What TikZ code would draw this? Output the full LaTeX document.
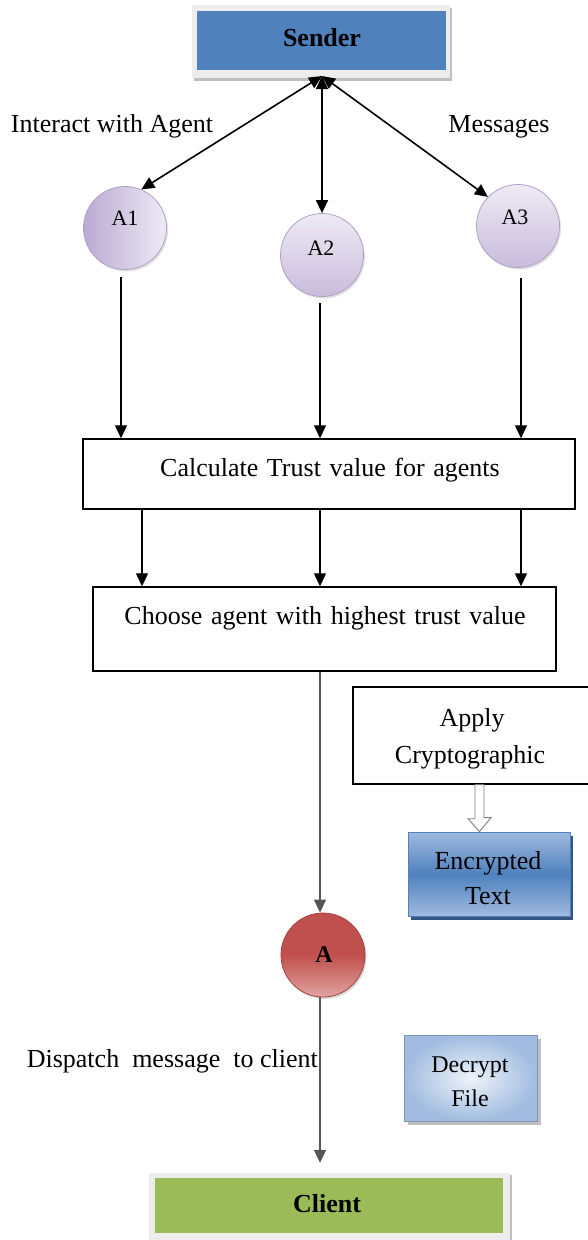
\documentclass[tikz,border=0pt]{standalone}
\usepackage{fontspec}
\setmainfont{Liberation Serif}
\usetikzlibrary{arrows.meta,shadows}
\definecolor{sblue}{HTML}{4F81BD}
\definecolor{cgreen}{HTML}{9BBB59}
\definecolor{framegrey}{HTML}{EDEDED}
\definecolor{frameshadow}{HTML}{BFBFBF}
\definecolor{lavdark}{HTML}{BBAAD3}
\definecolor{lavmid}{HTML}{C9BCDC}
\definecolor{lavlight}{HTML}{EEEAF4}
\definecolor{lavedge}{HTML}{B0A0C8}
\definecolor{redtop}{HTML}{C0504D}
\definecolor{redbot}{HTML}{E0A3A1}
\definecolor{rededge}{HTML}{A9423F}
\definecolor{enclight}{HTML}{9FBADF}
\definecolor{encshadow}{HTML}{34557F}
\definecolor{decouter}{HTML}{A1BCE0}
\definecolor{decinner}{HTML}{EEF3F9}
\definecolor{linegrey}{HTML}{555555}
\definecolor{hollowgrey}{HTML}{7F7F7F}
\newcommand{\myWideSpace}{\spaceskip=8.6pt\relax}
\tikzset{
  lbl/.style={font=\fontsize{26}{30}\selectfont, inner sep=0pt, anchor=base},
  blbl/.style={lbl, font=\fontsize{26}{30}\selectfont\bfseries},
  albl/.style={lbl, font=\fontsize{22}{26}\selectfont},
  arr/.style={line width=1.3pt, -{Triangle[length=13pt,width=12pt]}},
  dblarr/.style={line width=1.6pt, {Triangle[length=13pt,width=12pt]}-{Triangle[length=13pt,width=12pt]}},
  plainbox/.style={draw=black, line width=1.4pt, fill=white, inner sep=0pt},
  agent/.style={circle, minimum size=83pt, inner sep=0pt, draw=lavedge, line width=0.8pt,
    drop shadow={shadow xshift=1.5pt, shadow yshift=-2pt, opacity=0.25}},
}
\begin{document}
\begin{tikzpicture}[x=1pt,y=-1pt]
\useasboundingbox (0,0) rectangle (587,1240);

% ---------- Sender ----------
\fill[frameshadow] (194,8) rectangle (452,81);
\fill[framegrey] (192,5) rectangle (450,78);
\node[fill=sblue, minimum width=249pt, minimum height=59pt, inner sep=0pt] (sender) at (321.5,40.5) {};
\node[blbl] (sendert) at (322,46) {Sender};
\coordinate (hub) at (322,76);

% ---------- labels ----------
\node[lbl] (interact) at (112,132) {Interact with Agent};
\node[lbl] (messages) at (499,132) {Messages};

% ---------- agents ----------
\node[agent, shading angle=60, left color=lavdark, right color=lavlight] (A1) at (125,228) {};
\node[agent, top color=lavlight, bottom color=lavmid] (A2) at (322,255) {};
\node[agent, top color=lavlight, bottom color=lavmid] (A3) at (518,226) {};
\node[albl] (A1t) at (125,225) {A1};
\node[albl] (A2t) at (321,255) {A2};
\node[albl] (A3t) at (515,224) {A3};

\draw[dblarr] (hub) -- (A1.67);
\draw[dblarr] (hub) -- (A2.north);
\draw[dblarr] (hub) -- (A3.136);

% ---------- calculate / choose ----------
\node[plainbox, minimum width=492pt, minimum height=70pt] (calc) at (329,474) {};
\node[lbl] (calct) at (330,476) {\myWideSpace Calculate Trust value for agents};
\node[plainbox, minimum width=463pt, minimum height=84pt] (choose) at (324.5,629) {};
\node[lbl] (chooset) at (325,624) {\myWideSpace Choose agent with highest trust value};

\coordinate (xa) at (121,0);
\coordinate (xb) at (320,0);
\coordinate (xc) at (521,0);
\coordinate (xd) at (142,0);
\draw[arr] ([yshift=-7pt]A1.south -| xa) -- (calc.north -| xa);
\draw[arr] ([yshift=-6pt]A2.south -| xb) -- (calc.north -| xb);
\draw[arr] ([yshift=-10pt]A3.south -| xc) -- (calc.north -| xc);
\draw[arr] (calc.south -| xd) -- (choose.north -| xd);
\draw[arr] (calc.south -| xb) -- (choose.north -| xb);
\draw[arr] (calc.south -| xc) -- (choose.north -| xc);

% ---------- apply cryptographic ----------
\node[plainbox, minimum width=236pt, minimum height=97pt] (apply) at (471,735.5) {};
\node[lbl] (applyt1) at (472,726) {Apply};
\node[lbl] (applyt2) at (470,763) {Cryptographic};

\node[draw=sblue, line width=0.8pt, top color=enclight, bottom color=enclight, middle color=sblue,
      minimum width=162pt, minimum height=84pt, inner sep=0pt,
      drop shadow={shadow xshift=3pt, shadow yshift=-4pt, fill=encshadow, opacity=1}] (enc) at (489,874) {};
\node[lbl] (enct1) at (488,869) {Encrypted};
\node[lbl] (enct2) at (488,904) {Text};

% hollow arrow from apply to encrypted
\coordinate (hs) at (479.5,0);
\filldraw[draw=hollowgrey, fill=white, line width=0.9pt]
  ([xshift=-4.5pt]apply.south -| hs) -- ++(0,34) -- ++(-7,0) -- (enc.north -| hs)
  -- ++(11.5,-14) -- ++(-7,0) -- ([xshift=4.5pt]apply.south -| hs) -- cycle;

% ---------- agent A ----------
\node[circle, minimum size=84pt, inner sep=0pt, draw=rededge, line width=0.8pt,
      top color=redtop, bottom color=redbot, middle color=redtop,
      drop shadow={shadow xshift=1.5pt, shadow yshift=-2pt, opacity=0.3}] (A) at (323,955) {};
\node[lbl, font=\fontsize{24}{28}\selectfont\bfseries] (At) at (324,962) {A};
\draw[arr, draw=linegrey] (choose.south -| xb) -- (A.north -| xb);

% ---------- decrypt ----------
\node[inner sep=0pt, minimum width=133pt, minimum height=86pt, draw=decouter!80!black, line width=0.4pt,
      inner color=decinner, outer color=decouter,
      drop shadow={shadow xshift=4pt, shadow yshift=-4pt, fill=frameshadow, opacity=1}] (dec) at (470.5,1078) {};
\node[lbl, font=\fontsize{24}{28}\selectfont] (dect1) at (470,1072) {Decrypt};
\node[lbl, font=\fontsize{24}{28}\selectfont] (dect2) at (470,1106) {File};

% ---------- dispatch ----------
\node[lbl, anchor=base east] (dispatch) at (318,1067) {Dispatch\ \ message\ \ to\ client};

% ---------- client ----------
\fill[frameshadow] (150,1175) rectangle (512,1241);
\node[fill=framegrey, minimum width=361pt, minimum height=67pt, inner sep=0pt] (clientf) at (329,1206.5) {};
\node[fill=cgreen, minimum width=348pt, minimum height=55pt, inner sep=0pt] (client) at (329,1205.5) {};
\node[blbl] (clientt) at (327,1212) {Client};
\draw[arr, draw=linegrey] (A.south -| xb) -- ([yshift=10pt]clientf.north -| xb);
\end{tikzpicture}
\end{document}
